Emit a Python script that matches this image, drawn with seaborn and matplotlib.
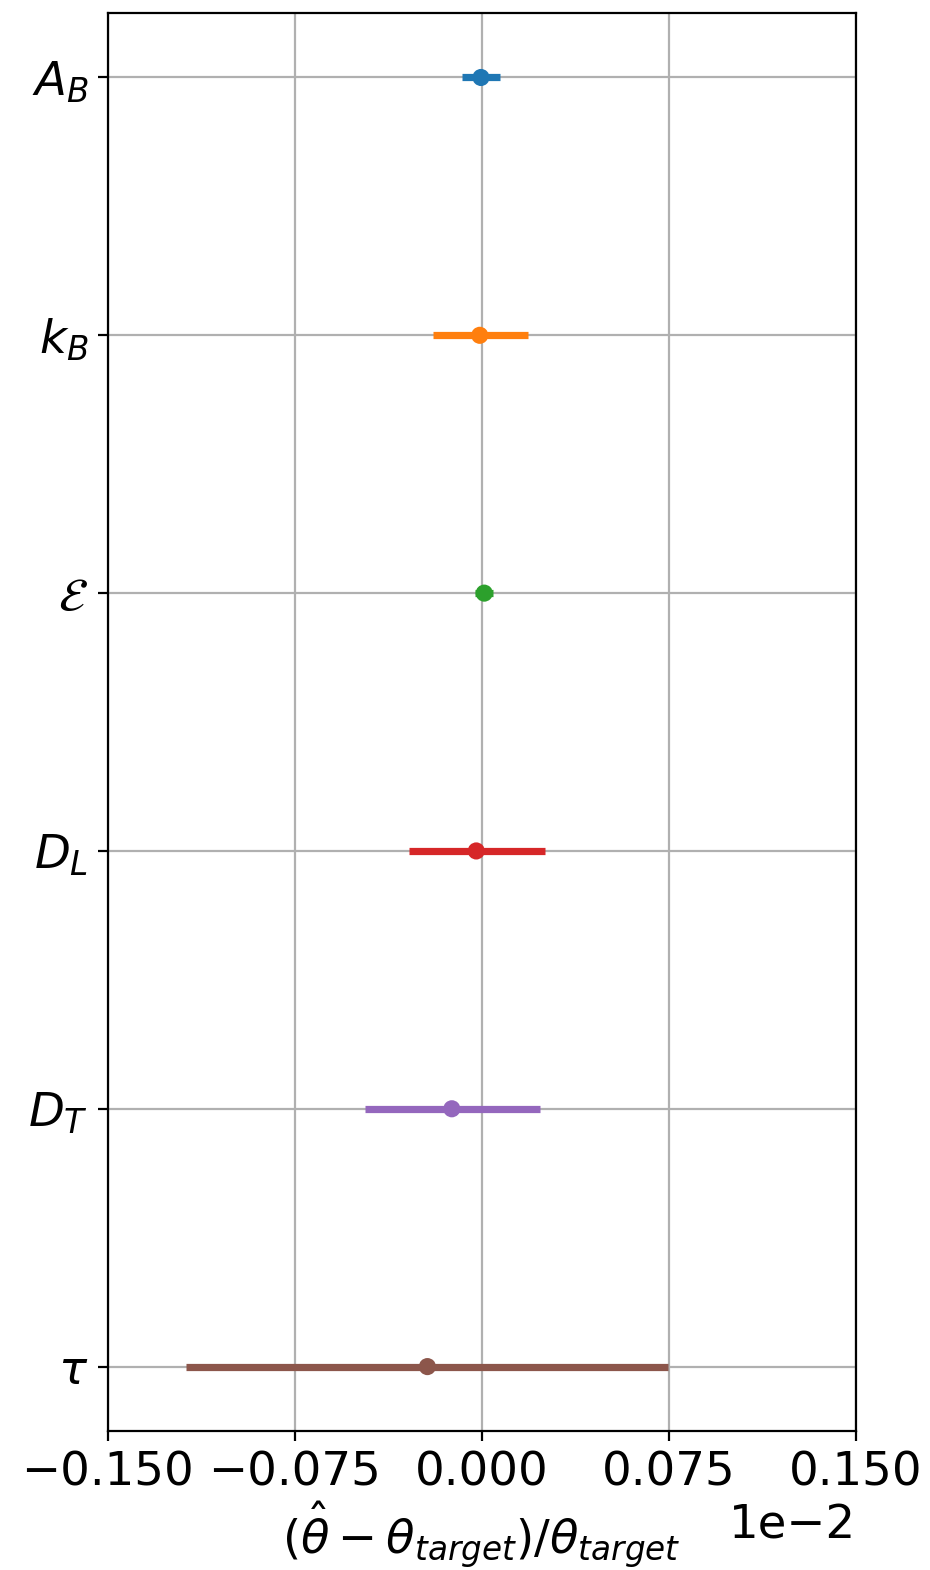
import matplotlib
matplotlib.use("Agg")
import matplotlib.pyplot as plt
import seaborn as sns
import numpy as np
import pandas as pd

params = [r'$A_B$', r'$k_B$', r'$\mathcal{E}$', r'$D_L$', r'$D_T$', r'$\tau$']
center = [-0.0003e-2, -0.0008e-2, 0.0010e-2, -0.0022e-2, -0.0120e-2, -0.0218e-2]
lower = [-0.0078e-2, -0.0197e-2, -0.0027e-2, -0.0293e-2, -0.0468e-2, -0.1185e-2]
upper = [0.0074e-2, 0.0184e-2, 0.0045e-2, 0.0253e-2, 0.0233e-2, 0.0748e-2]
xticks = [-0.0015, -0.00075, 0.0, 0.00075, 0.0015]

sns.set_palette("tab10")
plt.rcParams['font.size'] = 16.8
plt.rcParams['font.family'] = ['DejaVu Sans']

df = pd.DataFrame({"param": params, "center": center, "lower": lower,
                   "upper": upper, "pos": np.arange(len(params))})
colors = sns.color_palette("tab10", len(params))

fig = plt.figure(figsize=(4.65, 7.85), dpi=200)
ax = fig.add_axes([0.116, 0.0885, 0.804, 0.9032])

for i, row in df.iterrows():
    ax.errorbar(row["center"], row["pos"],
                xerr=[[row["center"] - row["lower"]], [row["upper"] - row["center"]]],
                fmt='none', ecolor=colors[i], elinewidth=2.6, capsize=0, zorder=3)
sns.scatterplot(data=df, x="center", y="pos", hue="param", palette=colors,
                s=38, edgecolor='none', legend=False, ax=ax, zorder=4)

ax.set_yticks(df["pos"])
ax.set_yticklabels(params)
ax.invert_yaxis()
ax.set_xlim(-0.0015, 0.0015)
ax.set_xticks(xticks)
ax.ticklabel_format(axis='x', style='sci', scilimits=(-2, -2))
ax.grid(True, color='#b0b0b0', linewidth=0.8)
ax.set_axisbelow(True)
ax.set_ylabel("")
ax.set_xlabel(r'$(\hat{\theta} - \theta_{target})/\theta_{target}$', labelpad=1.5)
ax.tick_params(labelsize=16.8)
ax.xaxis.get_offset_text().set_fontsize(16.8)

fig.savefig("out.png", dpi=200)
